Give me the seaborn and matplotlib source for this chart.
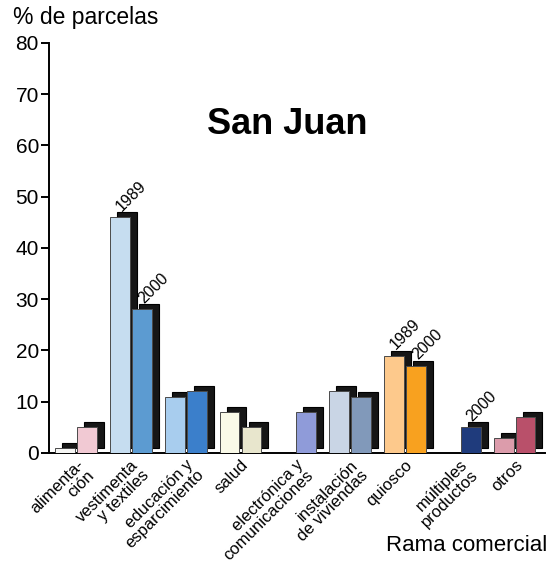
import pandas as pd
import matplotlib.pyplot as plt
import matplotlib.transforms as mtransforms
from matplotlib.patches import Rectangle
import seaborn as sns

# data
ramas = ['alimenta-\nción', 'vestimenta\ny textiles', 'educación y\nesparcimiento', 'salud',
         'electrónica y\ncomunicaciones', 'instalación\nde viviendas', 'quiosco',
         'múltiples\nproductos', 'otros']
v1989 = [1, 46, 11, 8, 0, 12, 19, 0, 3]
v2000 = [5, 28, 12, 5, 8, 11, 17, 5, 7]
col1989 = ['#f6f6f4', '#c6ddf0', '#a8cdee', '#fafae8', '#ffffff', '#c9d5e5', '#fdc98c', '#ffffff', '#dc9cab']
col2000 = ['#f1c9d3', '#5c9bd1', '#3b7fcb', '#e8e6cd', '#8f9bd9', '#8199ba', '#f8a11f', '#1f3b7c', '#b9506a']
# which bars carry a year label
marcas = [('vestimenta\ny textiles', 0), ('vestimenta\ny textiles', 1),
          ('quiosco', 0), ('quiosco', 1), ('múltiples\nproductos', 1)]

df = pd.DataFrame({'rama': ramas * 2,
                   'pct': v1989 + v2000,
                   'año': ['1989'] * len(ramas) + ['2000'] * len(ramas)})

sns.set_style('white')
plt.rcParams['font.family'] = ['Liberation Sans', 'DejaVu Sans']
plt.rcParams['text.color'] = 'black'
plt.rcParams['xtick.color'] = 'black'
plt.rcParams['ytick.color'] = 'black'

fig = plt.figure(figsize=(5.47, 5.68), dpi=100)
ax = fig.add_axes([0.089, 0.2025, 0.907, 0.722])

sns.barplot(data=df, x='rama', y='pct', hue='año', width=0.8, gap=0.1,
            legend=False, ax=ax, edgecolor='#4a4a4a', linewidth=0.7, zorder=3)

off = mtransforms.ScaledTranslation(7 / 100, 5 / 100, fig.dpi_scale_trans)
for i, cont in enumerate(ax.containers):
    cols = col1989 if i == 0 else col2000
    for j, bar in enumerate(cont.patches):
        bar.set_facecolor(cols[j])
        if bar.get_height() <= 0:
            bar.set_visible(False)
            continue
        sh = Rectangle((bar.get_x(), 0), bar.get_width(), bar.get_height(),
                       transform=ax.transData + off, facecolor='#161616',
                       edgecolor='#000000', linewidth=0.8, zorder=2)
        ax.add_patch(sh)

for rama, k in marcas:
    j = ramas.index(rama)
    bar = ax.containers[k].patches[j]
    t = ax.annotate('1989' if k == 0 else '2000', (bar.get_x(), bar.get_height()),
                    xytext=(8.5, 4), textcoords='offset points', rotation=45,
                    rotation_mode='anchor', ha='left', va='baseline', fontsize=11.5)
    t.set_zorder(10)

ax.set_ylim(0, 80)
ax.set_xlim(-0.5, 8.55)
ax.set_yticks(range(0, 81, 10))
ax.tick_params(axis='y', direction='out', length=6, width=1.4, labelsize=15, pad=1, left=True)
ax.tick_params(axis='x', length=0, labelsize=12, pad=3)
for lab in ax.get_xticklabels():
    lab.set_rotation(45)
    lab.set_ha('right')
    lab.set_rotation_mode('anchor')
    lab.set_linespacing(0.95)
ax.set_xlabel('')
ax.set_ylabel('')
sns.despine(ax=ax)
for s in ['left', 'bottom']:
    ax.spines[s].set_linewidth(1.4)
    ax.spines[s].set_color('black')

fig.text(0.024, 0.97, '% de parcelas', fontsize=16.5, va='center', ha='left')
fig.text(0.525, 0.78, 'San Juan', fontsize=26, fontweight='bold', ha='center', va='center')
fig.text(1.0, 0.04, 'Rama comercial', fontsize=16, ha='right', va='center')

fig.savefig('out.png', dpi=100, facecolor='white')
